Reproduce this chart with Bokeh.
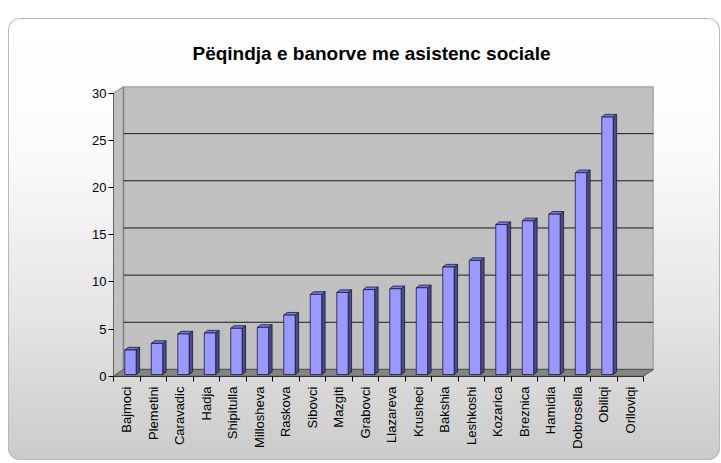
import numpy as np
from bokeh.plotting import figure
from bokeh.models import Range1d, FixedTicker
from bokeh.embed import file_html
from bokeh.resources import INLINE

# ---- data ----
categories = ["Bajmoci", "Plemetini", "Caravadic", "Hadja", "Shipitulla",
              "Millosheva", "Raskova", "Sibovci", "Mazgiti", "Grabovci",
              "Llazareva", "Krusheci", "Bakshia", "Leshkoshi", "Kozarica",
              "Breznica", "Hamidia", "Dobrosella", "Obiliqi", "Orlloviqi"]
values = [2.6, 3.3, 4.3, 4.4, 4.9, 5.0, 6.3, 8.5, 8.7, 9.0,
          9.1, 9.2, 11.4, 12.1, 15.9, 16.3, 17.0, 21.4, 27.3, 0.0]
y_ticks = [0, 5, 10, 15, 20, 25, 30]
title_text = "Pëqindja e banorve me asistenc sociale"

# ---- 3D styling constants (data units) ----
DX, DY = 0.377, 0.72      # depth of the chart box
BX, BY = 0.14, 0.18       # bar front-face offset inside the slot
BW = 0.43                 # bar width
BDX, BDY = 0.13, 0.28     # bar depth

FONT = "Liberation Sans"
n = len(categories)
ymax = y_ticks[-1]

p = figure(width=712, height=442, output_backend="svg", toolbar_location=None,
           x_range=Range1d(0, n + DX), y_range=Range1d(-0.03, ymax + DY),
           min_border_left=105, min_border_right=67,
           min_border_top=65, min_border_bottom=84)

p.background_fill_color = None
p.border_fill_color = None
p.outline_line_color = None
p.xgrid.visible = False
p.ygrid.visible = False
p.styles = {
    "margin-top": "18px",
    "margin-left": "8px",
    "background": "linear-gradient(to bottom, #ffffff 0%, #fbfbfb 30%, #e6e6e6 65%, #cbcbcb 100%)",
    "border-radius": "12px",
    "box-shadow": "inset 0 0 0 1px #b8b8b8",
}

# walls and floor
p.patch([0, DX, DX, 0], [0, DY, ymax + DY, ymax],
        fill_color="#c0c0c0", line_color="#808080", line_width=1)
p.quad(left=[DX], right=[n + DX], bottom=[DY], top=[ymax + DY],
       fill_color="#c0c0c0", line_color="#808080", line_width=1.5)
p.patch([0, n, n + DX, DX], [0, 0, DY, DY],
        fill_color="#858585", line_color="#555555", line_width=1)

# gridlines on back wall
gy = [t + DY for t in y_ticks[1:-1]]
p.segment(x0=[DX] * len(gy), y0=gy, x1=[n + DX] * len(gy), y1=gy,
          line_color="#1a1a1a", line_width=1)

# bars
fl, fr, fb, ft = [], [], [], []
sxs, sys_, txs, tys = [], [], [], []
for i, v in enumerate(values):
    if v <= 0:
        continue
    l = i + 0.5 - BW / 2 + BX
    r = l + BW
    b = BY
    t = v + BY
    fl.append(l); fr.append(r); fb.append(b); ft.append(t)
    sxs.append([r, r + BDX, r + BDX, r])
    sys_.append([b, b + BDY, t + BDY, t])
    txs.append([l, l + BDX, r + BDX, r])
    tys.append([t, t + BDY, t + BDY, t])

p.patches(sxs, sys_, fill_color="#4a4a8c", line_color="#1a1a33", line_width=0.8)
p.patches(txs, tys, fill_color="#7b7bdc", line_color="#1a1a33", line_width=0.8)
p.quad(left=fl, right=fr, bottom=fb, top=ft,
       fill_color="#9999ff", line_color="#1a1a33", line_width=0.8)

# axes
xa = p.xaxis[0]
xa.ticker = FixedTicker(ticks=[i + 0.5 for i in range(n)], minor_ticks=list(range(n + 1)))
xa.major_label_overrides = {i + 0.5: c for i, c in enumerate(categories)}
xa.major_label_orientation = np.pi / 2
xa.bounds = (0, n)
xa.axis_line_color = "#333333"
xa.major_tick_line_color = None
xa.major_tick_out = 0
xa.major_tick_in = 0
xa.minor_tick_line_color = "#000000"
xa.minor_tick_out = 5
xa.minor_tick_in = 0
xa.major_label_standoff = 5
xa.major_label_text_font = FONT
xa.major_label_text_font_size = "13px"
xa.major_label_text_color = "#000000"

ya = p.yaxis[0]
ya.ticker = FixedTicker(ticks=y_ticks)
ya.bounds = (0, ymax)
ya.axis_line_color = "#666666"
ya.major_tick_line_color = "#000000"
ya.major_tick_out = 5
ya.major_tick_in = 0
ya.minor_tick_line_color = None
ya.major_label_standoff = 2
ya.major_label_text_font = FONT
ya.major_label_text_font_size = "13px"
ya.major_label_text_color = "#000000"

# title
p.title.text = title_text
p.title.align = "left"
p.title.text_font = FONT
p.title.text_font_size = "19px"
p.title.text_font_style = "bold"
p.title.text_color = "#000000"
p.title.offset = 79
p.title.standoff = 45

open("out.html", "w").write(file_html(p, INLINE))
